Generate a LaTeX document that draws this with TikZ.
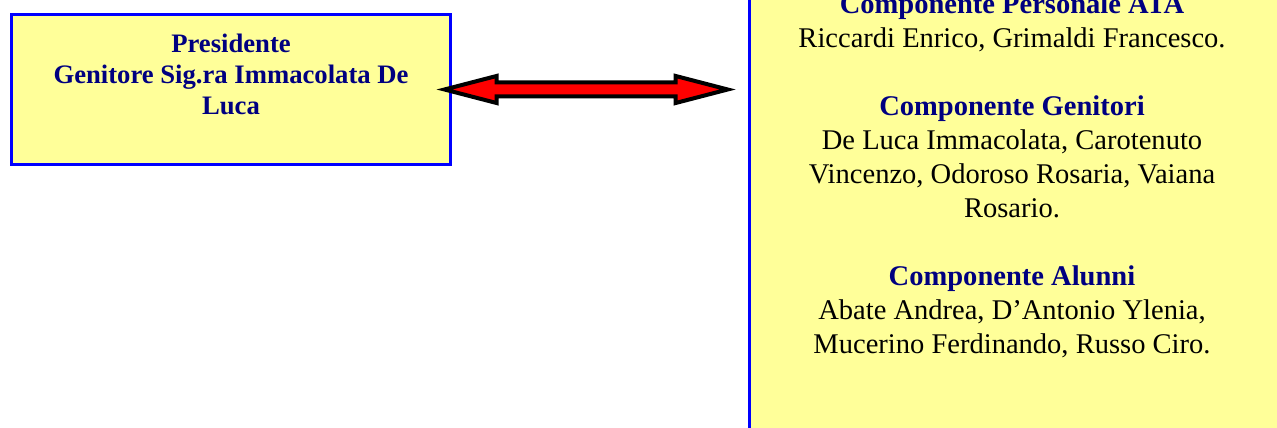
\documentclass[tikz,border=0pt]{standalone}
\usepackage{fontspec}
\setmainfont{Liberation Serif}
\usetikzlibrary{calc,positioning}
\definecolor{boxyellow}{HTML}{FFFF99}
\definecolor{navytext}{HTML}{000080}
\newcommand\BlockArrow[2]{%
    \draw[bigarrow] (#1) -- ($(#1)+(52,13.5)$) -- ($(#1)+(52,7)$) -- ($(#2)+(-52,7)$) -- ($(#2)+(-52,13.5)$) -- (#2)
        -- ($(#2)+(-52,-13.5)$) -- ($(#2)+(-52,-7)$) -- ($(#1)+(52,-7)$) -- ($(#1)+(52,-13.5)$) -- cycle;
}
\newcommand\Heading[1]{{\bfseries\color{navytext}#1}}

\begin{document}
\begin{tikzpicture}[x=0.75pt,y=0.75pt,
    yellowbox/.style={draw=blue,fill=boxyellow,line width=2.25pt,inner sep=0pt},
    headtext/.style={text=navytext,font=\bfseries\fontsize{20}{23.6}\selectfont,align=center,inner sep=0pt},
    listtext/.style={font=\fontsize{21.4}{25.5}\selectfont,align=center,inner sep=0pt},
    bigarrow/.style={draw=black,fill=red,line width=3pt}]
    \useasboundingbox (0,0) rectangle (1277,428);
    \clip (0,0) rectangle (1277,428);
    % president box
    \node[yellowbox,minimum width=329.25pt,minimum height=112.5pt] (pres) at (231,338.5) {};
    \node[headtext,below=15.2pt of pres.north] (prestext) {Presidente\\Genitore Sig.ra Immacolata De\\Luca};
    % council box, runs off the page
    \node[yellowbox,minimum width=405pt,minimum height=352.5pt] (council) at (1019.5,215) {};
    \node[listtext,anchor=north] (members) at (1012,434.7) {%
        \Heading{Componente Personale ATA}\\
        Riccardi Enrico, Grimaldi Francesco.\\[25.5pt]
        \Heading{Componente Genitori}\\
        De Luca Immacolata, Carotenuto\\
        Vincenzo, Odoroso Rosaria, Vaiana\\
        Rosario.\\[25.5pt]
        \Heading{Componente Alunni}\\
        Abate Andrea, D'Antonio Ylenia,\\
        Mucerino Ferdinando, Russo Ciro.};
    % double arrow
    \coordinate (arrL) at ($(pres.east)+(-7.5,0)$);
    \coordinate (arrR) at ($(arrL -| council.west)+(-20.3,0)$);
    \BlockArrow{arrL}{arrR}
\end{tikzpicture}
\end{document}
